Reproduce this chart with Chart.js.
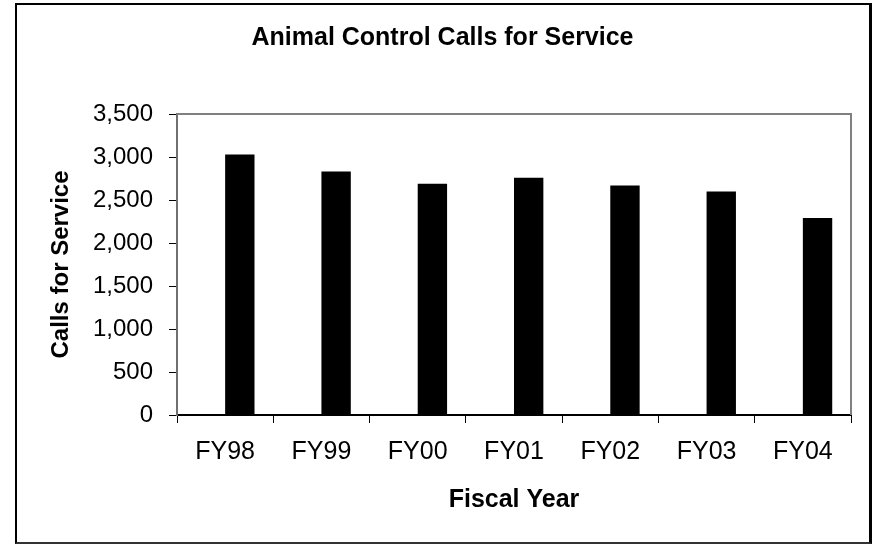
<!DOCTYPE html>
<html>
<head>
<meta charset="utf-8">
<script src="https://cdn.jsdelivr.net/npm/chart.js@4"></script>
<style>
  html, body { margin: 0; padding: 0; background: #fff; }
  #wrap { position: relative; width: 873px; height: 545px; }
  #frame {
    position: absolute; left: 15px; top: 3px; width: 852px; height: 537px;
    border: 2px solid #000; border-right-width: 3px; border-bottom-color: #333;
    pointer-events: none;
  }
</style>
</head>
<body>
<div id="wrap">
  <canvas id="calls" width="873" height="545"></canvas>
  <div id="frame"></div>
</div>
<script>
const years = ["FY98", "FY99", "FY00", "FY01", "FY02", "FY03", "FY04"];
const callsForService = [3030, 2830, 2690, 2760, 2670, 2600, 2290];
// empty series sitting in the first slot of each group, so the bars sit right of centre
const blankSeries = [];
const yTicks = [0, 500, 1000, 1500, 2000, 2500, 3000, 3500];

const FONT = "'Liberation Sans', Arial, sans-serif";

// gray frame on the top and right of the plot area
const plotFrame = {
  id: "plotFrame",
  beforeDatasetsDraw(chart) {
    const { ctx, chartArea: a } = chart;
    ctx.save();
    ctx.strokeStyle = "#808080";
    ctx.lineWidth = 2;
    ctx.beginPath();
    ctx.moveTo(a.left, a.top);
    ctx.lineTo(a.right, a.top);
    ctx.lineTo(a.right, a.bottom);
    ctx.stroke();
    ctx.restore();
  },
};

document.addEventListener("DOMContentLoaded", function () {
  const calls = document.getElementById("calls");
  new Chart(calls, {
    type: "bar",
    data: {
      labels: years,
      datasets: [
        {
          label: "",
          data: blankSeries,
          backgroundColor: "#fff",
          categoryPercentage: 0.61,
          barPercentage: 1,
        },
        {
          label: "Calls for Service",
          data: callsForService,
          backgroundColor: "#000",
          borderWidth: 0,
          categoryPercentage: 0.61,
          barPercentage: 1,
        },
      ],
    },
    options: {
      responsive: false,
      animation: false,
      devicePixelRatio: 1,
      layout: { padding: { left: 34, right: 22, top: 0, bottom: 0 } },
      scales: {
        x: {
          grid: {
            drawOnChartArea: false,
            offset: true,
            color: "#000",
            tickLength: 8,
          },
          border: { color: "#000", width: 2 },
          ticks: {
            color: "#000",
            font: { family: FONT, size: 25 },
            padding: 14,
            maxRotation: 0,
          },
          title: {
            display: true,
            text: "Fiscal Year",
            color: "#000",
            font: { family: FONT, size: 25, weight: "bold" },
            padding: { top: 0, bottom: 30 },
          },
          afterFit(scale) {
            scale.height = 130;
          },
        },
        y: {
          min: 0,
          max: 3500,
          afterBuildTicks(scale) {
            scale.ticks = yTicks.map((v) => ({ value: v }));
          },
          grid: {
            drawOnChartArea: false,
            color: "#000",
            tickLength: 8,
          },
          border: { color: "#707070", width: 2 },
          ticks: {
            color: "#000",
            font: { family: FONT, size: 24 },
            padding: 16,
            callback: (v) => Number(v).toLocaleString("en-US"),
          },
          title: {
            display: true,
            text: "Calls for Service",
            color: "#000",
            font: { family: FONT, size: 24, weight: "bold" },
            padding: { top: 13, bottom: 0 },
          },
          afterFit(scale) {
            scale.width = 143;
          },
        },
      },
      plugins: {
        legend: { display: false },
        tooltip: { enabled: false },
        title: {
          display: true,
          text: "Animal Control Calls for Service",
          color: "#000",
          font: { family: FONT, size: 25, weight: "bold" },
          padding: { top: 23, bottom: 61 },
        },
      },
    },
    plugins: [plotFrame],
  });
});
</script>
</body>
</html>
